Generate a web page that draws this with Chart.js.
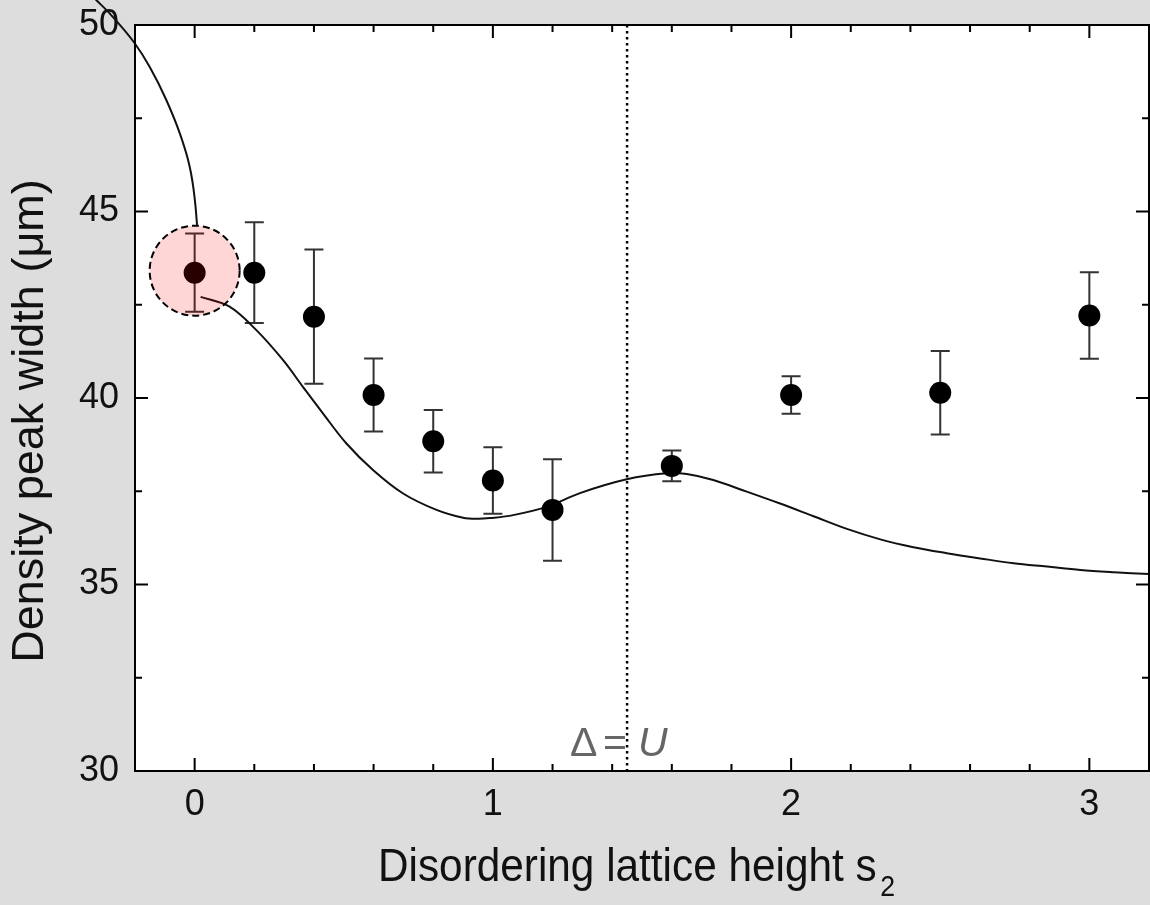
<!DOCTYPE html>
<html>
<head>
<meta charset="utf-8">
<script src="https://cdn.jsdelivr.net/npm/chart.js@4.4.0/dist/chart.umd.min.js"></script>
<style>
  html, body { margin: 0; padding: 0; background: #dddddd; }
  canvas { display: block; }
</style>
</head>
<body>
<canvas id="chart" width="1150" height="905"></canvas>
<script>
// measured points: disordering lattice height s2 vs density peak width (um)
const S2 = [0, 0.2, 0.4, 0.6, 0.8, 1.0, 1.2, 1.6, 2.0, 2.5, 3.0];
const WIDTH = [43.36, 43.36, 42.18, 40.08, 38.84, 37.79, 37.0, 38.18, 40.08, 40.14, 42.21];
const WIDTH_ERR = [1.05, 1.35, 1.8, 0.98, 0.84, 0.89, 1.36, 0.41, 0.5, 1.12, 1.16];

// theory curve, two branches (it jumps at s2 = 0)
const FIT_LEFT_X = [-0.363, -0.33, -0.285, -0.201, -0.151, -0.095, -0.05, -0.022, -0.012, -0.004, 0.003, 0.008];
const FIT_LEFT_Y = [50.94, 50.67, 50.31, 49.51, 48.88, 47.99, 47.1, 46.38, 46.02, 45.62, 45.13, 44.64];
const FIT_RIGHT_X = [0.02, 0.117, 0.207, 0.296, 0.363, 0.43, 0.509, 0.598, 0.699, 0.811, 0.9, 0.95, 0.99, 1.068, 1.18,
  1.292, 1.449, 1.583, 1.65, 1.739, 1.851, 1.963, 2.075, 2.187, 2.299, 2.41, 2.522, 2.634, 2.746, 2.858, 2.97, 3.082, 3.2];
const FIT_RIGHT_Y = [42.71, 42.45, 41.82, 41.02, 40.3, 39.59, 38.78, 38.07, 37.44, 37.0, 36.79, 36.76, 36.78, 36.86, 37.08,
  37.45, 37.82, 37.98, 37.96, 37.8, 37.49, 37.17, 36.83, 36.49, 36.21, 36.0, 35.84, 35.7, 35.57, 35.48, 35.39, 35.33, 35.28];

const X_TICKS = [0, 1, 2, 3];
const X_MINOR = [0.2, 0.4, 0.6, 0.8, 1.2, 1.4, 1.6, 1.8, 2.2, 2.4, 2.6, 2.8];
const Y_TICKS = [30, 35, 40, 45, 50];
const Y_MINOR = [32.5, 37.5, 42.5, 47.5];

const DELTA_EQ_U = 1.45;   // s2 where Delta = U
const HIGHLIGHT = 0;       // index of the circled point

const FONT = "'Liberation Sans', Arial, Helvetica, sans-serif";
Chart.defaults.font.family = FONT;
Chart.defaults.color = "#111";

const toXY = (xs, ys) => xs.map((v, i) => ({ x: v, y: ys[i] }));

// background, error bars, highlight, frame with inward ticks, titles
const decor = {
  id: "decor",
  beforeDraw(chart) {
    const { ctx, chartArea: a } = chart;
    ctx.save();
    ctx.fillStyle = "#dddddd";
    ctx.fillRect(0, 0, chart.width, chart.height);
    ctx.fillStyle = "#ffffff";
    ctx.fillRect(a.left, a.top, a.right - a.left, a.bottom - a.top);
    ctx.restore();
  },
  beforeDatasetsDraw(chart) {
    const { ctx, scales: { x, y } } = chart;
    ctx.save();
    ctx.strokeStyle = "#333";
    ctx.lineWidth = 2;
    S2.forEach((v, i) => {
      const px = x.getPixelForValue(v);
      const t = y.getPixelForValue(WIDTH[i] + WIDTH_ERR[i]);
      const b = y.getPixelForValue(WIDTH[i] - WIDTH_ERR[i]);
      ctx.beginPath();
      ctx.moveTo(px, t); ctx.lineTo(px, b);
      ctx.moveTo(px - 9.5, t); ctx.lineTo(px + 9.5, t);
      ctx.moveTo(px - 9.5, b); ctx.lineTo(px + 9.5, b);
      ctx.stroke();
    });
    ctx.restore();
  },
  afterDatasetsDraw(chart) {
    const { ctx, chartArea: a, scales: { x, y } } = chart;
    ctx.save();
    // dotted marker line
    const lx = x.getPixelForValue(DELTA_EQ_U);
    ctx.strokeStyle = "#000";
    ctx.lineWidth = 2.5;
    ctx.setLineDash([2.5, 3.5]);
    ctx.beginPath();
    ctx.moveTo(lx, a.top);
    ctx.lineTo(lx, a.bottom);
    ctx.stroke();

    // circled point
    const cx = x.getPixelForValue(S2[HIGHLIGHT]);
    const cy = y.getPixelForValue(WIDTH[HIGHLIGHT]) - 2;
    ctx.lineWidth = 2;
    ctx.setLineDash([7, 4]);
    ctx.beginPath();
    ctx.arc(cx, cy, 45, 0, Math.PI * 2);
    ctx.fillStyle = "rgba(255,0,0,0.16)";
    ctx.fill();
    ctx.stroke();
    ctx.setLineDash([]);

    // Delta = U label
    ctx.fillStyle = "#666";
    ctx.textBaseline = "alphabetic";
    ctx.textAlign = "left";
    const by = a.bottom - 15;
    ctx.font = "41px " + FONT;
    ctx.fillText("\u0394", lx - 57, by);
    ctx.fillText("=", lx - 24, by);
    ctx.font = "italic 41px " + FONT;
    ctx.fillText("U", lx + 11, by);
    ctx.restore();
  },
  afterDraw(chart) {
    const { ctx, chartArea: a, scales: { x, y } } = chart;
    ctx.save();
    ctx.strokeStyle = "#000";
    ctx.lineWidth = 2;
    ctx.strokeRect(a.left, a.top, a.right - a.left, a.bottom - a.top);
    ctx.beginPath();
    const xt = (v, len) => {
      const p = x.getPixelForValue(v);
      ctx.moveTo(p, a.bottom); ctx.lineTo(p, a.bottom - len);
      ctx.moveTo(p, a.top); ctx.lineTo(p, a.top + len);
    };
    const yt = (v, len) => {
      const p = y.getPixelForValue(v);
      ctx.moveTo(a.left, p); ctx.lineTo(a.left + len, p);
      ctx.moveTo(a.right, p); ctx.lineTo(a.right - len, p);
    };
    X_TICKS.forEach((v) => xt(v, 13));
    X_MINOR.forEach((v) => xt(v, 7));
    Y_TICKS.forEach((v) => yt(v, 13));
    Y_MINOR.forEach((v) => yt(v, 7));
    ctx.stroke();

    // axis titles
    ctx.fillStyle = "#111";
    ctx.textBaseline = "alphabetic";
    ctx.textAlign = "left";
    ctx.save();
    ctx.translate(378, 881);
    ctx.scale(0.92, 1);
    ctx.font = "46px " + FONT;
    const main = "Disordering lattice height s";
    const mw = ctx.measureText(main).width;
    ctx.fillText(main, 0, 0);
    ctx.font = "29px " + FONT;
    ctx.fillText("2", mw + 4, 15);
    ctx.restore();

    ctx.translate(43, 421);
    ctx.rotate(-Math.PI / 2);
    ctx.textAlign = "center";
    ctx.font = "45px " + FONT;
    ctx.fillText("Density peak width (\u03bcm)", 0, 0);
    ctx.restore();
  },
};

new Chart(document.getElementById("chart"), {
  type: "scatter",
  data: {
    datasets: [
      {
        label: "data",
        data: toXY(S2, WIDTH),
        pointRadius: 11,
        pointHoverRadius: 11,
        pointBackgroundColor: "#000",
        pointBorderWidth: 0,
        showLine: false,
      },
      {
        label: "fit right",
        data: toXY(FIT_RIGHT_X, FIT_RIGHT_Y),
        showLine: true,
        borderColor: "#111",
        borderWidth: 2,
        pointRadius: 0,
        tension: 0.35,
      },
      {
        // reversed order keeps every point drawn, including the part left of the frame
        label: "fit left",
        data: toXY(FIT_LEFT_X, FIT_LEFT_Y).reverse(),
        showLine: true,
        borderColor: "#111",
        borderWidth: 2,
        pointRadius: 0,
        cubicInterpolationMode: "monotone",
        capBezierPoints: false,
        clip: false,
      },
    ],
  },
  options: {
    responsive: false,
    animation: false,
    events: [],
    layout: { autoPadding: false, padding: { top: 25, right: 1, left: 0, bottom: 0 } },
    plugins: { legend: { display: false }, tooltip: { enabled: false } },
    scales: {
      x: {
        type: "linear",
        min: -0.2,
        max: 3.2,
        grid: { display: false, drawTicks: false },
        border: { display: false },
        ticks: { font: { size: 36 }, padding: 12, maxRotation: 0, autoSkip: false },
        afterBuildTicks: (s) => { s.ticks = X_TICKS.map((v) => ({ value: v })); },
        afterFit: (s) => { s.height = 134; s.paddingLeft = 0; s.paddingRight = 0; },
      },
      y: {
        type: "linear",
        min: 30,
        max: 50,
        grid: { display: false, drawTicks: false },
        border: { display: false },
        ticks: { font: { size: 36 }, padding: 16, autoSkip: false },
        afterBuildTicks: (s) => { s.ticks = Y_TICKS.map((v) => ({ value: v })); },
        afterFit: (s) => { s.width = 135; s.paddingTop = 0; s.paddingBottom = 0; },
      },
    },
  },
  plugins: [decor],
});
</script>
</body>
</html>
